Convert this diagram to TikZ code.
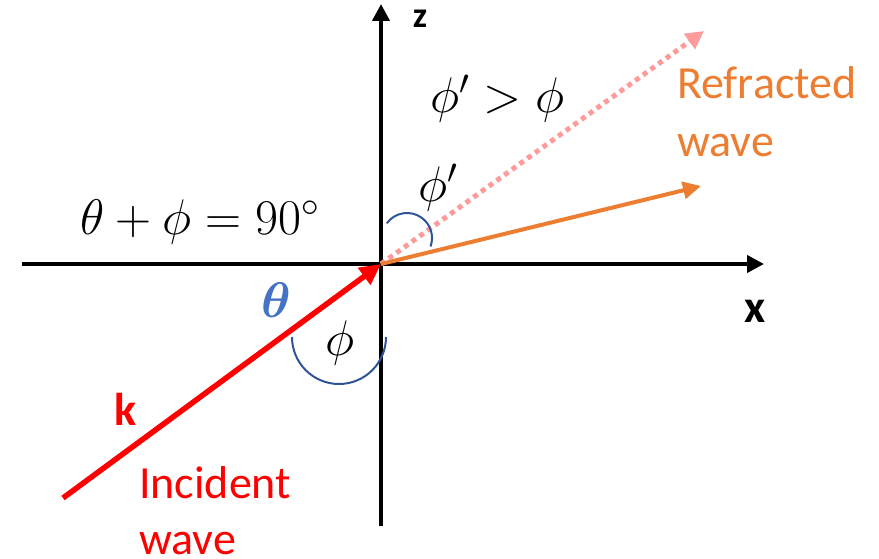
\RequirePackage{fix-cm}
\documentclass[tikz,border=0pt]{standalone}
\usepackage{amsmath}
\usepackage{fontspec}
\setmainfont{Carlito}
\usetikzlibrary{arrows.meta}
\definecolor{korange}{HTML}{ED7D31}
\definecolor{kpink}{HTML}{FF9B9B}
\definecolor{kblue}{HTML}{4472C4}
\definecolor{karc}{HTML}{2F5597}
\tikzset{
  axis/.style={line width=4pt,-{Triangle[length=17pt,width=17pt]}},
  big/.style={font=\fontsize{46}{52}\selectfont, inner sep=0pt},
  mth/.style={font=\fontsize{50}{56}\selectfont, inner sep=0pt},
  arcline/.style={draw=karc,line width=2pt},
}
\begin{document}
\begin{tikzpicture}[x=1pt,y=-1pt]
\useasboundingbox (0,0) rectangle (879,559);
% coordinates
\coordinate (O) at (381,264);
\coordinate (xl) at (22,264);
\coordinate (xr) at (764,264);
\coordinate (zb) at (381,526);
\coordinate (zt) at (381,4);
\coordinate (kin) at (63,498);
\coordinate (ref) at (701,186);
\coordinate (dot) at (704,31);
% axes
\draw[axis] (xl) -- (xr);
\draw[axis] (zb) -- (zt);
% rays
\draw[kpink,line width=5pt,dash pattern=on 5pt off 4.5pt,-{Triangle[length=18pt,width=18pt]}] (O) -- (dot);
\draw[korange,line width=4pt,-{Triangle[length=18pt,width=17pt]}] (O) -- (ref);
\draw[red,line width=5.5pt,-{Triangle[length=21pt,width=20pt]}] (kin) -- (O);
% arcs
\draw[arcline] (292,337) arc[start angle=180,end angle=0,radius=47];
\draw[arcline] (386.8,223.3) arc[start angle=216,end angle=380,radius=25];
% labels
\node[font=\fontsize{36}{40}\selectfont\bfseries,inner sep=0pt] (zl) at (420,19) {z};
\node[font=\fontsize{46}{52}\selectfont\bfseries,inner sep=0pt,anchor=base] (xlab) at (755,322) {x};
\node[big,text=korange,anchor=base west] (r1) at (677,99) {Refracted};
\node[big,text=korange,anchor=base west] (r2) at (677,157) {wave};
\node[big,text=red,anchor=base west] (i1) at (139,498) {Incident};
\node[big,text=red,anchor=base west] (i2) at (139,554) {wave};
\node[big,text=red,anchor=base west,font=\fontsize{46}{52}\selectfont\bfseries] (kl) at (114,425) {k};
\node[mth,anchor=base west] (eq) at (80,235) {$\theta+\phi=90^\circ$};
\node[mth,anchor=base west] (ineq) at (430,113) {$\phi'>\phi$};
\node[mth] (phip) at (438,188) {$\phi'$};
\node[mth] (phil) at (340,343) {$\phi$};
\node[mth,text=kblue] (th) at (276,300) {$\boldsymbol{\theta}$};
\end{tikzpicture}
\end{document}
